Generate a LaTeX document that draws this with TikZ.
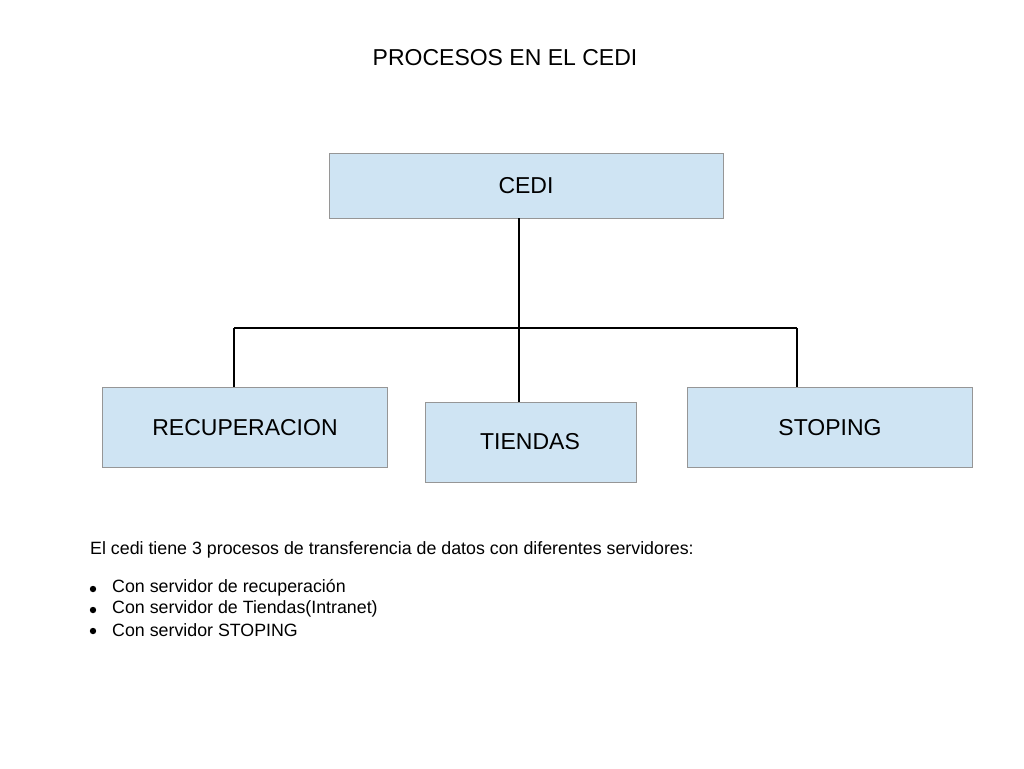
\documentclass[tikz,border=0pt]{standalone}
\usepackage{fontspec}
\setmainfont{Liberation Sans}
\definecolor{boxfill}{RGB}{207,228,243}
\definecolor{boxline}{RGB}{150,150,150}
\begin{document}
\begin{tikzpicture}[x=1pt,y=-1pt,
  box/.style={draw=boxline,fill=boxfill,line width=1pt},
  conn/.style={draw=black,line width=1.1pt}]
\useasboundingbox (0,0) rectangle (1024,768);
\node (title) at (505,58) {\fontsize{23}{27}\selectfont PROCESOS EN EL CEDI};
\draw[box] (329,153) rectangle (723,218);
\node (cedi) at (526,186) {\fontsize{23}{27}\selectfont CEDI};
\draw[box] (102,387) rectangle (387,467);
\node (rec) at (245,428) {\fontsize{23}{27}\selectfont RECUPERACION};
\draw[box] (425,402) rectangle (636,482);
\node (tie) at (530,442) {\fontsize{23}{27}\selectfont TIENDAS};
\draw[box] (687,387) rectangle (972,467);
\node (sto) at (830,428) {\fontsize{23}{27}\selectfont STOPING};
\coordinate (c0) at (519,218);
\coordinate (j) at (519,328);
\coordinate (l) at (234,328);
\coordinate (r) at (797,328);
\draw[conn] (c0) -- (j);
\draw[conn] (l) -- (r);
\draw[conn] (l) -- (234,387);
\draw[conn] (j) -- (519,402);
\draw[conn] (r) -- (797,387);
\node[anchor=west,inner sep=0] (t1) at (90,550) {\fontsize{17.8}{20}\selectfont El cedi tiene 3 procesos de transferencia de datos con diferentes servidores:};
\foreach \yy/\tx in {588/Con servidor de recuperación,609/Con servidor de Tiendas(Intranet),630/Con servidor STOPING}{
  \fill (93,\yy+1) circle (3.2);
  \node[anchor=west,inner sep=0] at (112,\yy) {\fontsize{17.8}{20}\selectfont \tx};
}
\end{tikzpicture}
\end{document}
